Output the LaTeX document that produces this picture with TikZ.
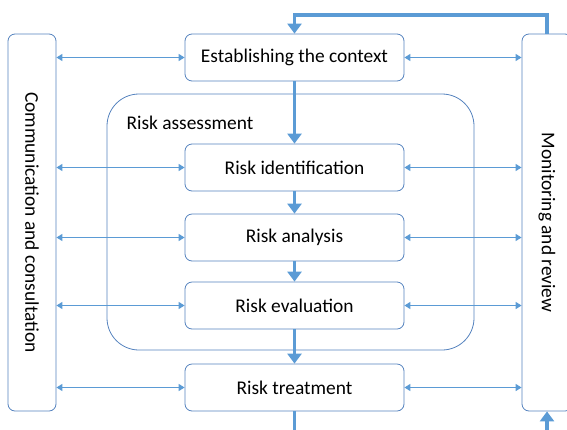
\documentclass[tikz,border=0pt]{standalone}
\usepackage{fontspec}
\setmainfont{Carlito}
\usetikzlibrary{arrows.meta}
\definecolor{lineblue}{RGB}{91,155,213}
\definecolor{boxblue}{RGB}{84,130,190}
\tikzset{>={Triangle[length=6pt,width=7pt]}}

\begin{document}
\begin{tikzpicture}[x=1pt,y=-1pt,
    stage/.style={draw=boxblue,line width=0.8pt,rounded corners=7pt,
      minimum width=219pt,minimum height=47pt,font=\fontsize{19.4}{23}\selectfont},
    side/.style={draw=boxblue,line width=0.8pt,rounded corners=7pt,rotate=-90,
      minimum width=377pt,font=\fontsize{19.4}{23}\selectfont},
    link/.style={lineblue,line width=1.4pt,<->},
    flow/.style={lineblue,line width=3.2pt,-{Triangle[length=10pt,width=14pt]}}]
      \useasboundingbox (0,0) rectangle (567,429);
      % risk assessment frame
      \node[draw=boxblue,line width=0.8pt,rounded corners=32pt,
        minimum width=367pt,minimum height=256pt] (assess) at (290.5,222) {};
      \node[font=\fontsize{19.4}{23}\selectfont,anchor=west] (alabel) at (123,123) {Risk assessment};
      % side boxes
      \node[side,minimum height=48pt] (comm) at (32,222.5) {Communication and consultation};
      \node[side,minimum height=50pt] (mon) at (547,222.5) {Monitoring and review};
      % process steps
      \node[stage] (ctx) at (294.5,57.5) {Establishing the context};
      \node[stage] (ident) at (294.5,167.5) {Risk identification};
      \node[stage] (anal) at (294.5,237.5) {Risk analysis};
      \node[stage] (eval) at (294.5,305.5) {Risk evaluation};
      \node[stage] (treat) at (294.5,387.5) {Risk treatment};
      % main flow
      \draw[flow] (ctx) -- (ident);
      \draw[flow] (ident) -- (anal);
      \draw[flow] (anal) -- (eval);
      \draw[flow] (eval) -- (treat);
      \coordinate (looptop) at (547,15);
      \coordinate (outlet) at (294.5,432);
      \coordinate (inlet) at (547,432);
      \draw[flow] (mon.west) -- (looptop) -| (ctx.north);
      \draw[lineblue,line width=3.2pt] (treat) -- (outlet);
      \draw[flow] (inlet) -- (mon.east);
      % two-way links
      \foreach \s in {ctx,ident,anal,eval,treat}{
        \draw[link] (comm.north |- \s) -- (\s.west);
        \draw[link] (\s.east) -- (mon.south |- \s);
      }
    \end{tikzpicture}
\end{document}
